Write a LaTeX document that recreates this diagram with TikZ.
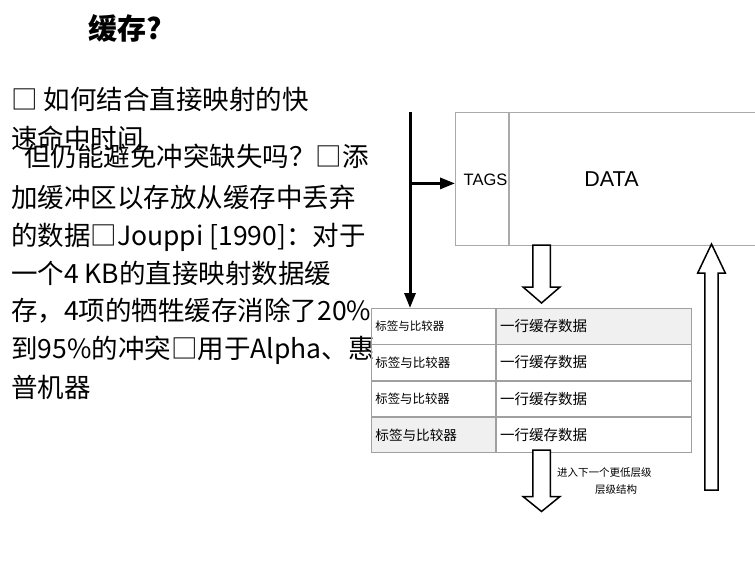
\documentclass[tikz,border=0pt]{standalone}
\usepackage{fontspec}
\newfontfamily\cjk{Noto Sans CJK SC}
\newfontfamily\helv{Liberation Sans}
\usepackage{tikz}
\usetikzlibrary{positioning}
\usetikzlibrary{calc}
\usetikzlibrary{arrows.meta}

\definecolor{boxgray}{RGB}{170,170,170}
\definecolor{linegray}{RGB}{160,160,160}
\definecolor{cellfill}{RGB}{240,240,240}

% start, tip, signed head length, shaft half width, head half width
\newcommand{\hollowarrow}[5]{%
	\draw[hollow] ($(#1)+(-#4,0)$) -- ($(#2)+(-#4,#3)$) -- ($(#2)+(-#5,#3)$)
		-- (#2) -- ($(#2)+(#5,#3)$) -- ($(#2)+(#4,#3)$) -- ($(#1)+(#4,0)$) -- cycle;}

\tikzset{
	bodyline/.style={anchor=base west, inner sep=0pt, font=\cjk\fontsize{26.5}{30}\selectfont},
	boxpart/.style={draw=boxgray, line width=0.8pt, inner sep=0pt, minimum height=133pt},
	cell/.style={draw=linegray, line width=0.8pt, inner sep=0pt, minimum height=35.5pt, align=left},
	tagcell/.style={cell, minimum width=124pt, text width=116pt},
	datacell/.style={cell, minimum width=195pt, text width=187pt, font=\cjk\fontsize{14.5}{16}\selectfont},
	thickarrow/.style={line width=3pt, -{Triangle[length=15pt,width=11pt]}},
	hollow/.style={draw=black, line width=1.5pt, fill=white, line join=miter}
}

\begin{document}
\begin{tikzpicture}[x=1pt, y=-1pt]
\useasboundingbox (0,0) rectangle (755,567);

% text on the left
\node[anchor=base west, inner sep=0pt, font=\cjk\bfseries\fontsize{29}{32}\selectfont] (title) at (88,40) {缓存?};

\node[bodyline] (line1) at (11,110) {□ 如何结合直接映射的快};
\node[bodyline] (line2) at (11,149) {速命中时间};
\node[bodyline] (line3) at (24,167) {但仍能避免冲突缺失吗？□添};
\node[bodyline] (line4) at (11,207) {加缓冲区以存放从缓存中丢弃};
\node[bodyline] (line5) at (11,245) {的数据□Jouppi [1990]：对于};
\node[bodyline] (line6) at (11,283) {一个4 KB的直接映射数据缓};
\node[bodyline] (line7) at (11,320) {存，4项的牺牲缓存消除了20\%};
\node[bodyline] (line8) at (11,358) {到95\%的冲突□用于Alpha、惠};
\node[bodyline] (line9) at (11,397) {普机器};

% cache block
\node[boxpart, minimum width=53pt, anchor=north west] (tags) at (455,112) {};
\node[boxpart, minimum width=257pt, right=0pt of tags] (data) {};
\node[inner sep=0pt, font=\helv\fontsize{16.5}{18}\selectfont] (tagstext) at (485.5,179.5) {TAGS};
\node[inner sep=0pt, font=\helv\fontsize{21.5}{24}\selectfont] (datatext) at (611.5,179) {DATA};

% victim cache
\node[tagcell, anchor=north west, font=\cjk\fontsize{11.5}{13}\selectfont] (tag1) at (371,308) {标签与比较器};
\node[datacell, fill=cellfill, right=0pt of tag1] (data1) {一行缓存数据};
\node[tagcell, below=0pt of tag1, font=\cjk\fontsize{12.5}{14}\selectfont] (tag2) {标签与比较器};
\node[datacell, right=0pt of tag2] (data2) {一行缓存数据};
\node[tagcell, below=0pt of tag2, font=\cjk\fontsize{12.4}{14}\selectfont] (tag3) {标签与比较器};
\node[datacell, right=0pt of tag3] (data3) {一行缓存数据};
\node[tagcell, fill=cellfill, below=0pt of tag3, font=\cjk\fontsize{13.6}{15}\selectfont] (tag4) {标签与比较器};
\node[datacell, right=0pt of tag4] (data4) {一行缓存数据};

\node[anchor=west, inner sep=0pt, font=\cjk\fontsize{10.5}{12}\selectfont] (nextlevel) at (557,473) {进入下一个更低层级};
\node[anchor=west, inner sep=0pt, font=\cjk\fontsize{10.5}{12}\selectfont] (nextlevel2) at (595,490) {层级结构};

% address path
\coordinate (feedtop) at (410,112);
\draw[thickarrow] (feedtop) -- (feedtop |- tag1.north);
\draw[thickarrow] ($(feedtop |- tags.west)+(0,4.5)$) -- ($(tags.west)+(0,4.5)$);

% block arrows
\coordinate (drop1top) at (541.5,245);
\coordinate (drop1tip) at (541.5,303);
\coordinate (drop2top) at (541.5,450);
\coordinate (drop2tip) at (541.5,511.5);
\coordinate (risebot) at (711.5,490);
\coordinate (risetip) at (711.5,244);

\hollowarrow{drop1top}{drop1tip}{-16}{8.75}{18.5}
\hollowarrow{drop2top}{drop2tip}{-15}{8.75}{18.5}
\hollowarrow{risebot}{risetip}{29}{6.6}{13.8}

\end{tikzpicture}
\end{document}
